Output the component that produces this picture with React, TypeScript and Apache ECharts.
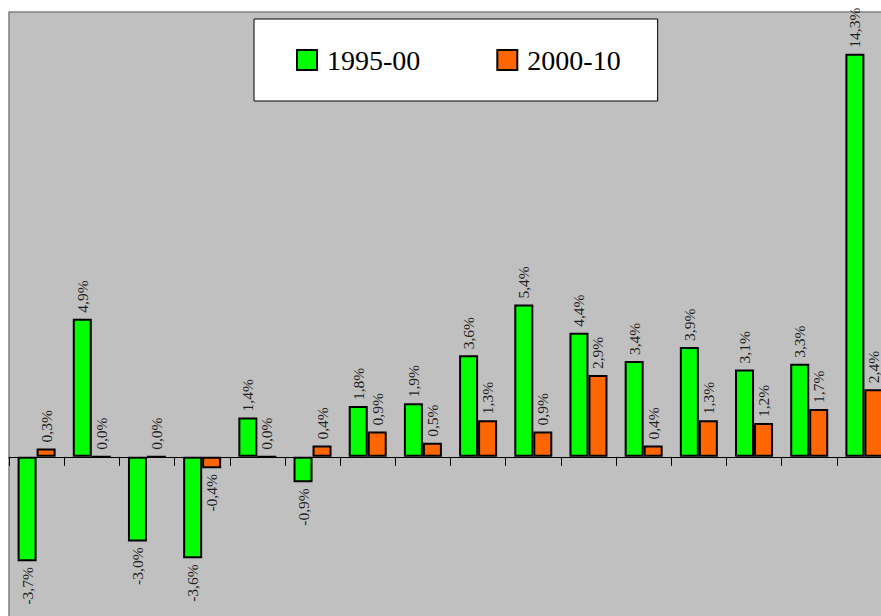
import React, { useEffect, useRef } from "react";
import * as echarts from "echarts";

const categories = ["1", "2", "3", "4", "5", "6", "7", "8", "9", "10", "11", "12", "13", "14", "15", "16"];
const series1995 = [-3.7, 4.9, -3.0, -3.6, 1.4, -0.9, 1.8, 1.9, 3.6, 5.4, 4.4, 3.4, 3.9, 3.1, 3.3, 14.3];
const series2000 = [0.3, 0.0, 0.0, -0.4, 0.0, 0.4, 0.9, 0.5, 1.3, 0.9, 2.9, 0.4, 1.3, 1.2, 1.7, 2.4];
const seriesNames = ["1995-00", "2000-10"];
const seriesColors = ["#00FF00", "#FF6600"];

const fmt = (v: number) => v.toFixed(1).replace(".", ",") + "%";

const SERIF = "Times New Roman";

const labelFont = {
  fontFamily: SERIF,
  fontSize: 15.5,
  color: "#1e1e1e",
};

function buildData(values: number[]) {
  return values.map((v) => ({
    value: v,
    label:
      v < 0
        ? { position: "bottom", align: "right" }
        : { position: "top", align: "left" },
  }));
}

export default function App() {
  const ref = useRef<HTMLDivElement>(null);
  useEffect(() => {
    if (!ref.current) return;
    const chart = echarts.init(ref.current, null, { renderer: "svg" });
    const makeSeries = (i: number, values: number[]) => ({
      name: seriesNames[i],
      type: "bar",
      barWidth: 19,
      barGap: "0%",
      data: buildData(values),
      itemStyle: { color: seriesColors[i], borderColor: "#000", borderWidth: 2 },
      label: {
        show: true,
        rotate: 90,
        verticalAlign: "middle",
        distance: 6,
        formatter: (p: any) => fmt(p.value),
        ...labelFont,
      },
      emphasis: { disabled: true },
    });
    chart.setOption({
      animation: false,
      backgroundColor: "#ffffff",
      textStyle: { fontFamily: SERIF },
      legend: {
        left: 254,
        top: 19,
        orient: "horizontal",
        backgroundColor: "#ffffff",
        borderColor: "#000000",
        borderWidth: 1,
        padding: [26, 37, 26, 42],
        itemWidth: 20,
        itemHeight: 20,
        itemGap: 76,
        icon: "rect",
        textStyle: {
          fontFamily: SERIF,
          fontSize: 28,
          color: "#000",
          lineHeight: 30,
          padding: [0, 0, 0, 5],
        },
        data: seriesNames,
      },
      grid: {
        left: 9,
        top: 12,
        width: 883,
        height: 614,
        show: true,
        backgroundColor: "#C0C0C0",
        borderColor: "#808080",
        borderWidth: 1.5,
      },
      xAxis: {
        type: "category",
        data: categories,
        axisLine: { show: true, onZero: true, lineStyle: { color: "#000", width: 1 } },
        axisTick: { show: true, length: 9, lineStyle: { color: "#000" } },
        axisLabel: { show: false },
        splitLine: { show: false },
      },
      yAxis: {
        type: "value",
        min: -6,
        max: 15.78,
        show: false,
        splitLine: { show: false },
      },
      series: [makeSeries(0, series1995), makeSeries(1, series2000)],
    });
    return () => chart.dispose();
  }, []);
  return (
    <div style={{ position: "fixed", left: 0, top: 0, width: 881, height: 616, overflow: "hidden" }}>
      <div ref={ref} style={{ width: 920, height: 660 }} />
    </div>
  );
}
